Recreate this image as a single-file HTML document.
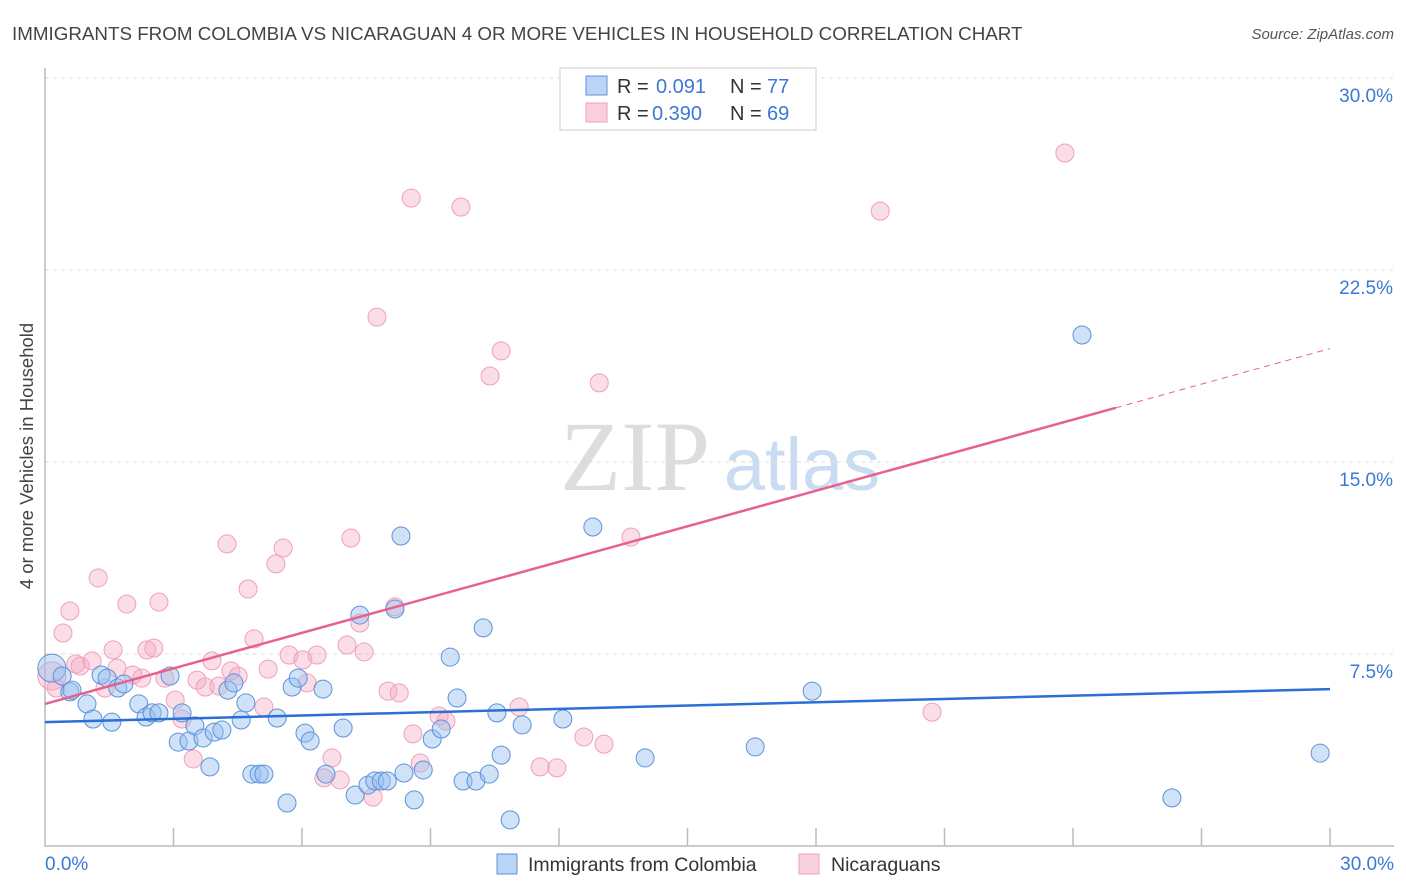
<!DOCTYPE html>
<html><head><meta charset="utf-8"><style>
body{margin:0;background:#fff;font-family:"Liberation Sans",sans-serif;}
svg{display:block}
</style></head><body>
<svg id="chart" width="1406" height="892" xmlns="http://www.w3.org/2000/svg">
<text x="12" y="40" font-size="18.8" fill="#444">IMMIGRANTS FROM COLOMBIA VS NICARAGUAN 4 OR MORE VEHICLES IN HOUSEHOLD CORRELATION CHART</text>
<text x="1394" y="39" font-size="15" fill="#555" font-style="italic" text-anchor="end">Source: ZipAtlas.com</text>
<text x="33" y="456" font-size="18.5" fill="#444" text-anchor="middle" transform="rotate(-90 33 456)">4 or more Vehicles in Household</text>
<g>
<text x="635" y="490" font-size="100" fill="#ddd" font-family="Liberation Serif,serif" text-anchor="middle">ZIP</text>
<text x="802" y="490" font-size="74" fill="#c9dcf2" text-anchor="middle">atlas</text>
</g>
<g id="grid"></g>
<g id="axes"></g>
<g id="pts"></g>
<g id="trends"></g>
<g>
<rect x="560" y="68" width="256" height="62" fill="#fff" stroke="#ccc"/>
<rect x="586" y="76" width="21" height="19" fill="#bcd4f4" stroke="#5b93d9"/>
<text x="617" y="93" font-size="20" fill="#333">R = </text><text x="656" y="93" font-size="20" fill="#3b78d8">0.091</text>
<text x="730" y="93" font-size="20" fill="#333">N = </text><text x="767" y="93" font-size="20" fill="#3b78d8">77</text>
<rect x="586" y="103" width="21" height="19" fill="#f9cfdc" stroke="#f0a0b8"/>
<text x="617" y="120" font-size="20" fill="#333">R = </text><text x="652" y="120" font-size="20" fill="#3b78d8">0.390</text>
<text x="730" y="120" font-size="20" fill="#333">N = </text><text x="767" y="120" font-size="20" fill="#3b78d8">69</text>
</g>
<g>
<rect x="497" y="854" width="20" height="20" fill="#bcd4f4" stroke="#5b93d9"/>
<text x="528" y="871" font-size="19.5" fill="#333">Immigrants from Colombia</text>
<rect x="799" y="854" width="20" height="20" fill="#f9cfdc" stroke="#f0a0b8"/>
<text x="831" y="871" font-size="19.5" fill="#333">Nicaraguans</text>
</g>
</svg>
<script>
const blueX=[0.16,0.40,0.58,0.63,0.98,1.12,1.31,1.45,1.56,1.70,1.84,2.19,2.36,2.50,2.66,2.92,3.11,3.20,3.36,3.50,3.69,3.85,3.95,4.13,4.27,4.41,4.58,4.69,4.83,5.00,5.11,5.42,5.65,5.77,5.91,6.07,6.19,6.49,6.56,6.96,7.24,7.35,7.54,7.70,7.85,7.99,8.17,8.31,8.38,8.62,8.83,9.04,9.25,9.46,9.62,9.76,10.06,10.23,10.37,10.55,10.65,10.86,11.14,12.09,12.79,14.01,16.58,17.91,24.21,26.31,29.77];
const blueY=[6.95,6.64,6.02,6.09,5.55,4.96,6.68,6.56,4.84,6.17,6.33,5.55,5.04,5.20,5.20,6.64,4.06,5.20,4.10,4.69,4.22,3.09,4.45,4.53,6.09,6.37,4.92,5.59,2.81,2.81,2.81,5.00,1.68,6.21,6.56,4.41,4.10,6.13,2.81,4.61,1.99,9.02,2.38,2.54,2.54,2.54,9.26,12.11,2.85,1.80,2.97,4.18,4.57,7.38,5.78,2.54,2.54,8.52,2.81,5.20,3.55,1.02,4.73,4.96,12.46,3.44,3.87,6.05,19.96,1.88,3.63];
const pinkX=[0.16,0.26,0.42,0.58,0.72,0.82,1.10,1.24,1.40,1.59,1.68,1.91,2.05,2.26,2.38,2.54,2.66,2.80,3.04,3.20,3.46,3.55,3.74,3.90,4.06,4.25,4.34,4.51,4.74,4.88,5.11,5.21,5.39,5.56,5.70,6.02,6.12,6.35,6.51,6.70,6.89,7.05,7.14,7.35,7.45,7.66,7.75,8.01,8.17,8.27,8.55,8.59,8.76,9.20,9.36,9.71,10.39,10.65,11.07,11.56,11.95,12.58,12.94,13.05,13.68,20.71,19.50,23.81];
const pinkY=[6.64,6.17,8.32,9.18,7.11,7.03,7.23,10.47,6.17,7.66,6.95,9.45,6.68,6.56,7.66,7.73,9.53,6.56,5.70,4.96,3.40,6.48,6.21,7.23,6.25,11.80,6.84,6.64,10.04,8.09,5.43,6.91,11.02,11.64,7.46,7.27,6.37,7.46,2.66,3.44,2.58,7.85,12.03,8.71,7.58,1.91,20.66,6.05,9.34,5.98,25.31,4.38,3.24,5.08,4.88,24.96,18.36,19.34,5.43,3.09,3.05,4.26,18.09,3.98,12.07,5.23,24.80,27.07];
const yTicks=[7.5,15,22.5,30];
const yTickLabels=["7.5%","15.0%","22.5%","30.0%"];
const xTicks=[0,3,6,9,12,15,18,21,24,27,30];
const blueTrend=[4.84,6.13];
const pinkTrend=[5.55,19.43];
const pinkSolidEnd=25;
const NS="http://www.w3.org/2000/svg";
const X=v=>45+v*(1285/30);
const Y=v=>846-v*25.6;
function mk(tag,attrs,parent){const e=document.createElementNS(NS,tag);for(const k in attrs)e.setAttribute(k,attrs[k]);parent.appendChild(e);return e;}
const grid=document.getElementById('grid'),axes=document.getElementById('axes'),pts=document.getElementById('pts'),tr=document.getElementById('trends');
yTicks.forEach((t,i)=>{
 const l=mk('line',{x1:45,x2:1394,y1:Y(t),y2:Y(t),stroke:'#ddd','stroke-dasharray':'4,4'},grid);
 
 
 const tx=mk('text',{x:1393,y:Y(t)+24,'font-size':19,fill:'#3b78d8','text-anchor':'end'},grid);
 tx.textContent=yTickLabels[i];
 
 
});
const ax=mk('path',{d:'M45 68V846H1394',fill:'none',stroke:'#bbb','stroke-width':1.5},axes);


xTicks.slice(1).forEach(t=>{
 const l=mk('line',{x1:X(t),x2:X(t),y1:828,y2:846,stroke:'#bbb','stroke-width':1.5},axes);
 
 
});
const xl0=mk('text',{x:45,y:870,'font-size':19,fill:'#3b78d8'},axes);xl0.textContent='0.0%';


const xl1=mk('text',{x:1394,y:870,'font-size':19,fill:'#3b78d8','text-anchor':'end'},axes);xl1.textContent='30.0%';


function dots(xs,ys,fill,stroke,name){
 xs.forEach((v,i)=>{
  const r=i===0?14:9;
  const c=mk('circle',{cx:X(v),cy:Y(ys[i]),r:r,fill:fill,stroke:stroke,'stroke-width':1},pts);
  
  
 });
}
dots(pinkX,pinkY,'rgba(246,170,196,0.4)','#f0a0b8','nicaraguan-point');
dots(blueX,blueY,'rgba(150,190,240,0.45)','#5b93d9','colombia-point');
const bl=mk('line',{x1:X(0),y1:Y(blueTrend[0]),x2:X(30),y2:Y(blueTrend[1]),stroke:'#2a6fd6','stroke-width':2.5},tr);


const pe=pinkTrend[0]+(pinkTrend[1]-pinkTrend[0])*pinkSolidEnd/30;
const pl=mk('line',{x1:X(0),y1:Y(pinkTrend[0]),x2:X(pinkSolidEnd),y2:Y(pe),stroke:'#e8608c','stroke-width':2.5},tr);


const pd=mk('line',{x1:X(pinkSolidEnd),y1:Y(pe),x2:X(30),y2:Y(pinkTrend[1]),stroke:'#e8608c','stroke-width':1,'stroke-dasharray':'6,5'},tr);


</script>
</body></html>
